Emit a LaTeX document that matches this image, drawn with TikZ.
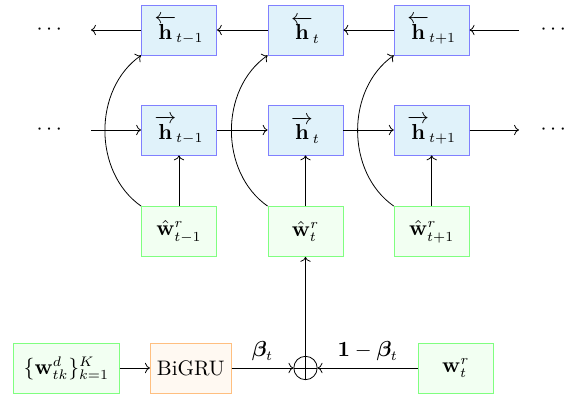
\documentclass[tikz,border=0pt]{standalone}
\usepackage{amsmath,bm}
\usetikzlibrary{arrows.meta}
\definecolor{hfill}{RGB}{224,242,250}
\begin{document}
\begin{tikzpicture}[x=0.505pt,y=-0.505pt,
  every node/.style={font=\fontsize{10.6}{13}\selectfont},
  hbox/.style={draw=blue!50,fill=hfill,minimum width=37.9pt,minimum height=25.25pt,inner sep=1pt},
  gbox/.style={draw=green!50,fill=green!5,minimum width=37.9pt,minimum height=25.25pt,inner sep=1pt},
  obox/.style={draw=orange!50,fill=orange!5,minimum width=40.9pt,minimum height=25.25pt,inner sep=1pt},
  arr/.style={->,line width=0.4pt},
  opl/.style={draw,circle,minimum size=11.8pt,inner sep=0pt,
    path picture={\draw (path picture bounding box.north) -- (path picture bounding box.south)
      (path picture bounding box.west) -- (path picture bounding box.east);}}]
\useasboundingbox (0,0) rectangle (573,399);
% top row (backward)
\node[hbox] (hb1) at (179,30) {$\overleftarrow{\mathbf{h}}_{t-1}$};
\node[hbox] (hb2) at (305.5,30) {$\overleftarrow{\mathbf{h}}_{t}$};
\node[hbox] (hb3) at (431.7,30) {$\overleftarrow{\mathbf{h}}_{t+1}$};
% middle row (forward)
\node[hbox] (hf1) at (179,130) {$\overrightarrow{\mathbf{h}}_{t-1}$};
\node[hbox] (hf2) at (305.5,130) {$\overrightarrow{\mathbf{h}}_{t}$};
\node[hbox] (hf3) at (431.7,130) {$\overrightarrow{\mathbf{h}}_{t+1}$};
% green row
\node[gbox] (w1) at (179,231.5) {$\hat{\mathbf{w}}^r_{t-1}$};
\node[gbox] (w2) at (305.5,231.5) {$\hat{\mathbf{w}}^r_{t}$};
\node[gbox] (w3) at (431.7,231.5) {$\hat{\mathbf{w}}^r_{t+1}$};
% dots
\node (dl1) at (51,30) {$\cdots$};
\node (dl2) at (51,130) {$\cdots$};
\node (dr1) at (555,30) {$\cdots$};
\node (dr2) at (555,130) {$\cdots$};
\coordinate (l1) at (91,30);
\coordinate (l2) at (91,130);
\coordinate (r1) at (519,30);
\coordinate (r2) at (519,130);
% bottom row
\node[gbox,minimum width=53.5pt] (wd) at (66.3,368) {$\{\mathbf{w}^d_{tk}\}_{k=1}^K$};
\node[obox] (gru) at (190.8,368) {BiGRU};
\node[opl] (op) at (305.5,368) {};
\node[gbox] (wr) at (455.8,368) {$\mathbf{w}^r_t$};
% connectors top
\draw[arr] (r1) -- (hb3.east);
\draw[arr] (hb3.west) -- (hb2.east);
\draw[arr] (hb2.west) -- (hb1.east);
\draw[arr] (hb1.west) -- (l1);
% connectors middle
\draw[arr] (l2) -- (hf1.west);
\draw[arr] (hf1.east) -- (hf2.west);
\draw[arr] (hf2.east) -- (hf3.west);
\draw[arr] (hf3.east) -- (r2);
% vertical
\draw[arr] (w1.north) -- (hf1.south);
\draw[arr] (w2.north) -- (hf2.south);
\draw[arr] (w3.north) -- (hf3.south);
% curves
\draw[arr] (w1.north west) to[bend left=55] (hb1.south west);
\draw[arr] (w2.north west) to[bend left=55] (hb2.south west);
\draw[arr] (w3.north west) to[bend left=55] (hb3.south west);
% bottom
\draw[arr] (wd.east) -- (gru.west);
\draw[arr] (gru.east) -- node[above] {$\bm{\beta}_t$} (op.west);
\draw[arr] (wr.west) -- node[above] {$\mathbf{1}-\bm{\beta}_t$} (op.east);
\draw[arr] (op.north) -- (w2.south);
\end{tikzpicture}
\end{document}
